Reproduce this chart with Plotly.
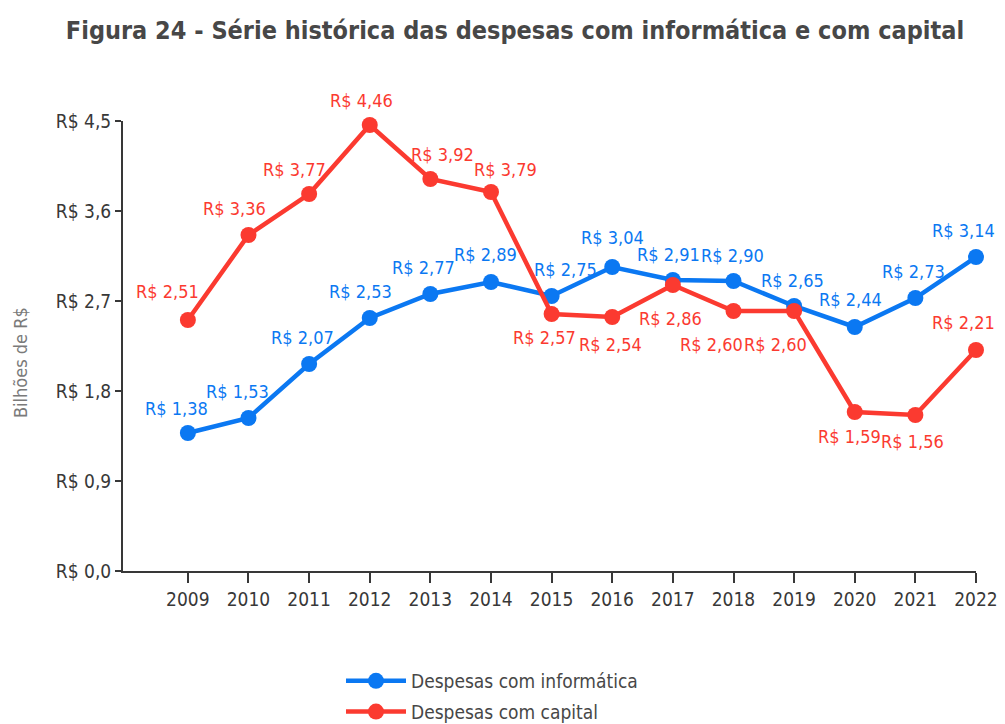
import plotly.graph_objects as go

years = list(range(2009, 2023))
informatica = [1.38, 1.53, 2.07, 2.53, 2.77, 2.89, 2.75, 3.04, 2.91, 2.90, 2.65, 2.44, 2.73, 3.14]
capital = [2.51, 3.36, 3.77, 4.46, 3.92, 3.79, 2.57, 2.54, 2.86, 2.60, 2.60, 1.59, 1.56, 2.21]
y_ticks = [0, 0.9, 1.8, 2.7, 3.6, 4.5]
y_ticktext = ["R$ 0,0", "R$ 0,9", "R$ 1,8", "R$ 2,7", "R$ 3,6", "R$ 4,5"]

# label offsets (pixels) relative to each point
inf_dx = [-11, -11, -7, -9, -7, -6, 14, 0, -4, -1, -2, -4, -2, -13]
inf_dy = [25, 27, 27, 27, 27, 28, 27, 30, 26, 26, 26, 28, 27, 27]
cap_dx = [-20, -14, -15, -8, 12, 14, -7, -2, -2, -22, -19, -5, -3, -13]
cap_dy = [29, 27, 25, 25, 25, 23, -23, -27, -33, -33, -33, -24, -26, 28]


def fmt(v):
    return "R$ " + f"{v:.2f}".replace(".", ",")


FONT = "DejaVu Sans Condensed, Roboto, sans-serif"
BLUE = "#0b78f2"
RED = "#fb3a30"
DARK = "#383838"

fig = go.Figure()
fig.add_trace(go.Scatter(
    x=years, y=informatica, mode="lines+markers", name="Despesas com informática",
    legendgroup="a",
    line=dict(color=BLUE, width=4.5), marker=dict(size=16, color=BLUE), cliponaxis=False))
fig.add_trace(go.Scatter(
    x=years, y=capital, mode="lines+markers", name="Despesas com capital",
    legendgroup="b",
    line=dict(color=RED, width=4.5), marker=dict(size=16, color=RED), cliponaxis=False))

annotations = []
for series, color, dxs, dys in [(informatica, BLUE, inf_dx, inf_dy), (capital, RED, cap_dx, cap_dy)]:
    for yr, v, dx, dy in zip(years, series, dxs, dys):
        annotations.append(dict(x=yr, y=v, xref="x", yref="y", text=fmt(v), showarrow=False,
                                xshift=dx, yshift=dy, xanchor="center", yanchor="middle",
                                font=dict(family=FONT, size=18, color=color)))
annotations.append(dict(x=0, y=0.5, xref="paper", yref="paper", text="Bilhões de R$",
                        showarrow=False, textangle=-90, xanchor="center", yanchor="middle",
                        xshift=-103, yshift=-17,
                        font=dict(family=FONT, size=18, color="#7a7a7a")))

fig.update_layout(
    width=989, height=716, plot_bgcolor="white", paper_bgcolor="white",
    margin=dict(l=115, r=21, t=113, b=153, autoexpand=False),
    title=dict(text="<b>Figura 24 - Série histórica das despesas com informática e com capital</b>",
               x=0.5126, xanchor="center", xref="container", y=0.9693, yref="container",
               yanchor="middle", font=dict(family=FONT, size=25, color="#474747")),
    font=dict(family=FONT, color=DARK),
    showlegend=True,
    annotations=annotations,
    legend=dict(orientation="v", x=0.3367, xanchor="left", xref="container",
                y=0.0866, yanchor="top", yref="container",
                font=dict(family=FONT, size=19, color="#474747"), itemwidth=60,
                tracegroupgap=3),
)
fig.update_xaxes(range=[2007.93, 2022], tickvals=years, ticktext=[str(y) for y in years],
                 showline=True, linecolor=DARK, linewidth=2, ticks="outside", automargin=False,
                 ticklabeloverflow="allow",
                 ticklen=10, tickwidth=2, tickcolor=DARK, showgrid=False, zeroline=False,
                 tickfont=dict(family=FONT, size=19, color=DARK))
fig.update_yaxes(range=[0, 4.5], tickvals=y_ticks, ticktext=y_ticktext,
                 showline=True, linecolor=DARK, linewidth=2, ticks="outside", automargin=False,
                 ticklen=6, tickwidth=2, tickcolor=DARK, showgrid=False, zeroline=False,
                 tickfont=dict(family=FONT, size=19, color=DARK))

fig.write_html("out.html")
